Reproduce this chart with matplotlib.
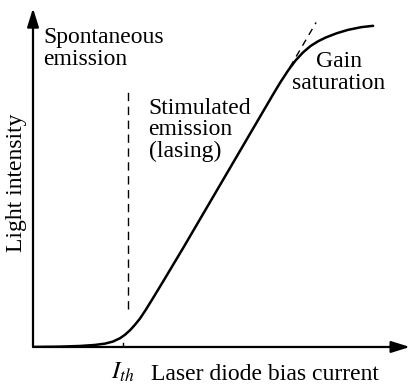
"""
Light output versus bias current of a laser diode
"""
from matplotlib import pyplot as plt

plt.rcParams['font.family'] = ['Liberation Serif', 'DejaVu Serif']
plt.rcParams['mathtext.fontset'] = 'stix'

# Light-current curve (arbitrary units, axes run 0..100):
current = [0, 7.2, 12.5, 16.5, 19.2, 21.3, 23.2, 24.5, 25.9, 27.2, 28.5,
           30.0, 32.0, 35.0, 40.0, 45.0, 50.0, 55.0, 60.0, 64.0, 66.0,
           68.0, 70.0, 72.0, 74.0, 76.0, 78.0, 81.0, 84.0, 87.5, 90.7]
intensity = [0, 0.1, 0.3, 0.6, 1.0, 1.6, 2.6, 3.6, 5.0, 6.6, 8.4,
             10.9, 14.5, 20.0, 29.3, 38.8, 48.3, 57.8, 67.3, 74.9, 78.6,
             82.0, 85.0, 87.4, 89.3, 90.7, 91.8, 93.1, 94.1, 94.9, 95.3]

# Threshold current and the dashed guide lines:
I_th = 24.0
threshold_x = [25.3, 25.3]
threshold_y = [11.3, 76.9]
tangent_x = [68.5, 75.5]
tangent_y = [83.0, 96.3]

figure = plt.figure(figsize=(4.10, 3.84), dpi=100)
ax = figure.add_axes([0.0805, 0.0964, 0.9146, 0.8776])
ax.set_xlim(0, 100)
ax.set_ylim(0, 100)
ax.axis('off')

lineColour = 'black'

# Axes drawn as arrows:
arrow = dict(arrowstyle='-|>,head_length=0.8,head_width=0.25',
             color=lineColour, lw=1.6, mutation_scale=14,
             shrinkA=0, shrinkB=0)
ax.annotate('', xy=(100.5, 0), xytext=(0, 0), arrowprops=arrow,
            annotation_clip=False)
ax.annotate('', xy=(0, 100.5), xytext=(0, 0), arrowprops=arrow,
            annotation_clip=False)

# Curve and guides:
ax.plot(current, intensity, color=lineColour, linewidth=1.8,
        solid_capstyle='round', solid_joinstyle='round', zorder=3)
ax.plot(threshold_x, threshold_y, color=lineColour, linewidth=1.0,
        linestyle=(0, (6, 4)))
ax.plot(tangent_x, tangent_y, color=lineColour, linewidth=1.0,
        linestyle=(0, (5, 4)))
ax.plot([I_th, I_th], [0, 1.2], color=lineColour, linewidth=1.0)

fs = 17
ax.text(2.7, 94.9, 'Spontaneous\nemission', fontsize=fs, va='top',
        ha='left', linespacing=1.05)
ax.text(30.8, 74.0, 'Stimulated\nemission\n(lasing)', fontsize=fs,
        va='top', ha='left', linespacing=1.05)
ax.text(81.5, 87.7, 'Gain\nsaturation', fontsize=fs, va='top',
        ha='center', linespacing=1.05)
ax.text(I_th, -4, r'$I_{th}$', fontsize=fs + 1, ha='center', va='top')
ax.text(31.5, -5.0, 'Laser diode bias current', fontsize=fs, ha='left',
        va='top')
ax.text(-4.4, 48.7, 'Light intensity', fontsize=fs, rotation=90,
        ha='center', va='center')

plt.savefig('out.png', dpi=100)
